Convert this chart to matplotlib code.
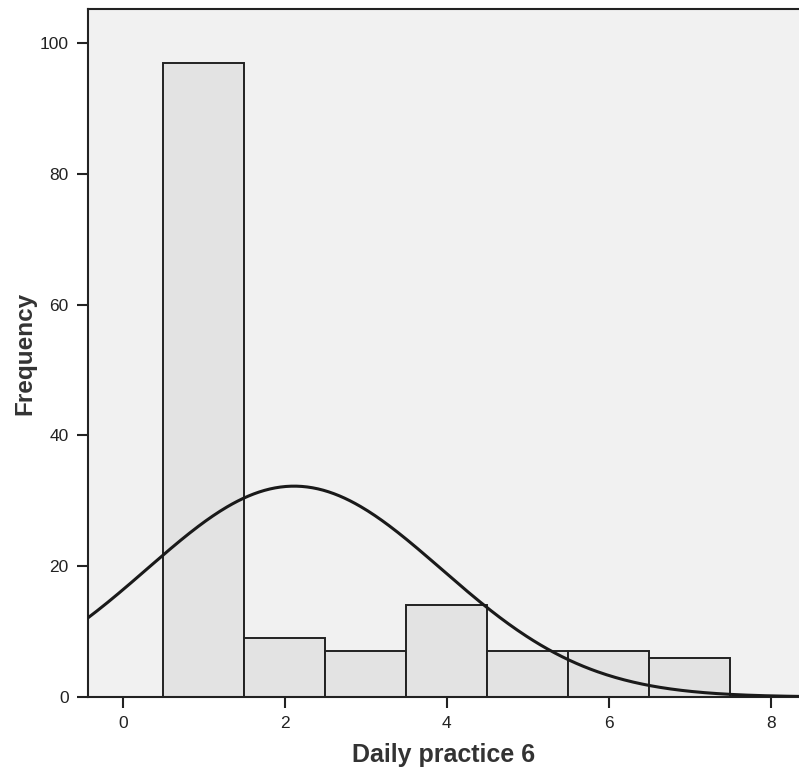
import numpy as np
import matplotlib.pyplot as plt

plt.rcParams["font.family"] = ["Liberation Sans", "DejaVu Sans"]

# Histogram data (bin centres and counts)
values = [1, 2, 3, 4, 5, 6, 7]
counts = [97, 9, 7, 14, 7, 7, 6]

x_ticks = [0, 2, 4, 6, 8]
y_ticks = [0, 20, 40, 60, 80, 100]

fig = plt.figure(figsize=(7.99, 7.68), dpi=100)
ax = fig.add_axes([88 / 799, 71 / 768, 711 / 799, 688 / 768])
ax.set_facecolor("#f1f1f1")

ax.bar(values, counts, width=1.0, color="#e3e3e3", edgecolor="#222222",
       linewidth=1.4, zorder=2)

# Normal curve fitted to the histogram data
vals = np.repeat(values, counts)
mu = vals.mean()
sd = vals.std(ddof=1)
n = len(vals)
xs = np.linspace(-0.43, 8.35, 400)
ys = n / (sd * np.sqrt(2 * np.pi)) * np.exp(-((xs - mu) ** 2) / (2 * sd ** 2))
ax.plot(xs, ys, color="#1a1a1a", linewidth=2.2, zorder=3)

ax.set_xlim(-0.43, 8.35)
ax.set_ylim(0, 105.2)
ax.set_xticks(x_ticks)
ax.set_yticks(y_ticks)
ax.tick_params(direction="out", length=8, width=1.5, labelsize=12.5,
               colors="#222222", pad=6)
for side in ["left", "bottom", "top"]:
    ax.spines[side].set_linewidth(1.5)
    ax.spines[side].set_color("#222222")
ax.spines["right"].set_visible(False)

ax.set_xlabel("Daily practice 6", fontsize=18, fontweight="bold",
              color="#333333", labelpad=8)
ax.set_ylabel("Frequency", fontsize=17.5, fontweight="bold",
              color="#333333", labelpad=2)

plt.savefig("out.png", dpi=100)
